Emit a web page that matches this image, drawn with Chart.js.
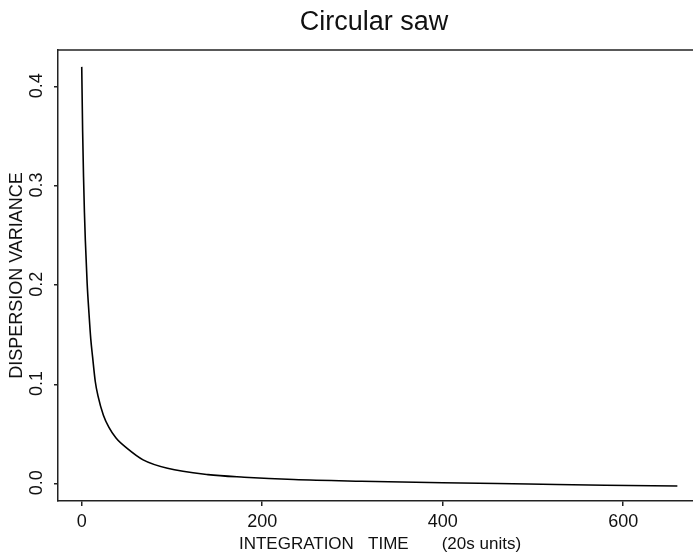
<!DOCTYPE html>
<html lang="en">
<head>
  <meta charset="UTF-8" />
  <title>Circular saw</title>
  <script src="https://cdn.jsdelivr.net/npm/chart.js"></script>
  <style>
    html, body {
      margin: 0;
      padding: 0;
      background: #fff;
      overflow: hidden;
    }
    .wrap {
      width: 693px;
      height: 559px;
      overflow: hidden;
    }
  </style>
</head>
<body>
  <div class="wrap">
    <!-- plot runs a little past the right edge, so no right frame shows -->
    <canvas id="sawChart" width="702" height="559"></canvas>
  </div>

  <script>
    // integration time (20 s units) vs dispersion variance
    const integrationTime = [0, 1, 2, 3, 4, 6, 8, 10, 12, 15, 18, 24, 30, 38, 50, 68, 95, 140, 180, 235, 310, 400, 495, 580, 660];
    const dispersionVariance = [0.42, 0.355, 0.309, 0.273, 0.245, 0.202, 0.172, 0.146, 0.128, 0.103, 0.0885, 0.069, 0.057, 0.046, 0.0358, 0.024, 0.0155, 0.0092, 0.0066, 0.0042, 0.0025, 0.001, -0.0003, -0.0015, -0.0023];

    const xTicks = [0, 200, 400, 600];
    const yTicks = [0.0, 0.1, 0.2, 0.3, 0.4];

    const ink = '#111';
    const axisColor = '#222';
    const family = '"Liberation Sans", Arial, sans-serif';

    // title, open right side, top frame line and the rotated y tick labels
    const extras = {
      id: 'extras',
      afterDraw(chart) {
        const ctx = chart.ctx;
        const area = chart.chartArea;
        const y = chart.scales.y;
        ctx.save();

        ctx.fillStyle = '#fff';
        ctx.fillRect(686, area.top + 1, chart.width - 686, area.bottom - area.top - 2);

        ctx.strokeStyle = axisColor;
        ctx.lineWidth = 1.5;
        ctx.beginPath();
        ctx.moveTo(area.left, area.top);
        ctx.lineTo(area.right, area.top);
        ctx.stroke();

        ctx.fillStyle = ink;
        ctx.font = '27px ' + family;
        ctx.textAlign = 'center';
        ctx.textBaseline = 'middle';
        ctx.fillText('Circular saw', 374, 23);

        ctx.font = '18px ' + family;
        yTicks.forEach(v => {
          const py = y.getPixelForValue(v);
          ctx.save();
          ctx.translate(37, py - 1);
          ctx.rotate(-Math.PI / 2);
          ctx.fillText(v.toFixed(1), 0, 0);
          ctx.restore();
        });
        ctx.restore();
      }
    };

    new Chart(document.getElementById('sawChart').getContext('2d'), {
      type: 'line',
      data: {
        datasets: [{
          data: integrationTime.map((t, i) => ({ x: t, y: dispersionVariance[i] })),
          borderColor: '#000',
          borderWidth: 1.6,
          pointRadius: 0,
          cubicInterpolationMode: 'monotone'
        }]
      },
      options: {
        responsive: false,
        animation: false,
        layout: { padding: { top: 50, left: 0, right: 0, bottom: 0 } },
        plugins: {
          legend: { display: false },
          tooltip: { enabled: false }
        },
        scales: {
          x: {
            type: 'linear',
            min: -26.3,
            max: 687.3,
            afterFit(scale) { scale.height = 58; },
            afterBuildTicks(scale) { scale.ticks = xTicks.map(v => ({ value: v })); },
            grid: { drawOnChartArea: false, tickLength: 5, color: axisColor, lineWidth: 1.5 },
            border: { display: true, color: axisColor, width: 1.5 },
            ticks: {
              color: ink,
              padding: 5,
              maxRotation: 0,
              font: { size: 18, family: family }
            },
            title: {
              display: true,
              text: 'INTEGRATION   TIME       (20s units)',
              color: ink,
              padding: { top: 0, bottom: 4 },
              font: { size: 17, family: family }
            }
          },
          y: {
            min: -0.0174,
            max: 0.437,
            afterFit(scale) { scale.width = 58; },
            afterBuildTicks(scale) { scale.ticks = yTicks.map(v => ({ value: v })); },
            grid: { drawOnChartArea: false, tickLength: 4, color: axisColor, lineWidth: 1.5 },
            border: { display: true, color: axisColor, width: 1.5 },
            ticks: { display: false },
            title: {
              display: true,
              text: 'DISPERSION VARIANCE',
              color: ink,
              padding: { top: 6, bottom: 0 },
              font: { size: 18, family: family }
            }
          }
        }
      },
      plugins: [extras]
    });
  </script>
</body>
</html>
